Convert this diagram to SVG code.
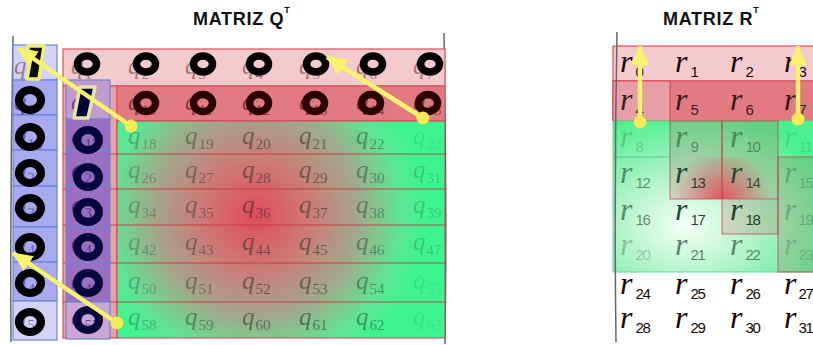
<svg xmlns="http://www.w3.org/2000/svg" width="813" height="345" viewBox="0 0 813 345">
<defs>
<radialGradient id="gq" cx="255" cy="215" r="170" gradientUnits="userSpaceOnUse">
<stop offset="0" stop-color="#e24a5c"/>
<stop offset="0.33" stop-color="#cc7c78"/>
<stop offset="0.6" stop-color="#a2a888"/>
<stop offset="0.85" stop-color="#5ee496"/>
<stop offset="1" stop-color="#3ef48e"/>
</radialGradient>
<radialGradient id="gr" cx="0.36" cy="0.69" r="0.75">
<stop offset="0" stop-color="#f6fff8"/>
<stop offset="0.5" stop-color="#a8f2c2"/>
<stop offset="1" stop-color="#4cf090"/>
</radialGradient>
<radialGradient id="rs" cx="722" cy="199" r="50" gradientUnits="userSpaceOnUse">
<stop offset="0" stop-color="#e0404f" stop-opacity="0.85"/>
<stop offset="1" stop-color="#e0404f" stop-opacity="0"/>
</radialGradient>
<marker id="ah" markerWidth="20" markerHeight="18" refX="19" refY="9" orient="auto" markerUnits="userSpaceOnUse"><path d="M0,0 L20,9 L0,18 Z" fill="#f7f36a"/></marker>
</defs>
<style>
.t{font-family:"Liberation Sans",Arial,sans-serif;font-weight:bold;font-size:18px;fill:#111;letter-spacing:0.7px}
.t tspan{font-size:9px;letter-spacing:0}
.q{font-family:"Liberation Serif","DejaVu Serif",serif;font-style:italic;font-size:25px}
.q tspan{font-style:normal;font-size:15px}
.r{font-family:"Liberation Serif","DejaVu Serif",serif;font-style:italic;font-size:32px}
.r tspan{font-family:"Liberation Sans",sans-serif;font-style:normal;font-size:15px;letter-spacing:-1.2px}
.ring{fill:none;stroke:#000;stroke-width:7.5}
.rd{stroke:#2a0202}
.nv{stroke:#07073e}
.big{stroke-width:8}
.arrow{stroke:#f7f36a;stroke-width:4.5;fill:none;marker-end:url(#ah)}
.dot{fill:#f6ea55}
.br{fill:none;stroke:#666;stroke-width:1.5}
.pk{stroke:#e0505a;stroke-width:1.2}
.bl{stroke:#6a88d8;stroke-width:1.2}
.sep{stroke:#c8303f;stroke-opacity:0.55;stroke-width:1.5}
.h0{fill:#6a1a1a;fill-opacity:.5}
.h1{fill:#4a0000;fill-opacity:.55}
.hc0{fill:#2a2a90;fill-opacity:.6}
.hc1{fill:#300070;fill-opacity:.6}
.g1{fill:#102a14;fill-opacity:.3}
.g2{fill:#102a14;fill-opacity:.42}
.g3{fill:#102a14;fill-opacity:.5}
.g6{fill:#102a14;fill-opacity:.22}
.gf{fill:#102a14;fill-opacity:.1}
.rk{fill:#1a0808}
.rg{fill:#063018}
.ov{fill:#c04048;fill-opacity:.18;stroke:#c83848;stroke-opacity:.6;stroke-width:1.2}
</style>
<rect width="813" height="345" fill="#fff"/>

<g id="title-q"><text class="t" x="193" y="25">MATRIZ Q<tspan dx="0" dy="-12">T</tspan></text></g>
<g id="title-r"><text class="t" x="663" y="25">MATRIZ R<tspan dx="0" dy="-12">T</tspan></text></g>

<g id="matrix-q">
<path class="br" d="M13,36 Q10,190 11,342"/>
<path class="br" d="M444,33 Q447,190 445,344"/>
<rect x="63" y="49" width="382" height="37" fill="#f3cbcf" class="pk"/>
<rect x="63" y="86" width="54" height="252" fill="#e9a1a8" class="pk"/>
<rect x="117" y="86" width="328" height="35" fill="#e27a82" class="pk"/>
<rect x="117" y="121" width="328" height="217" fill="url(#gq)" stroke="#d04050" stroke-width="1"/>
<g class="sep">
<line x1="63" y1="154" x2="445" y2="154"/>
<line x1="63" y1="189" x2="445" y2="189"/>
<line x1="63" y1="225" x2="445" y2="225"/>
<line x1="63" y1="263" x2="445" y2="263"/>
<line x1="63" y1="302" x2="445" y2="302"/>
</g>
<g id="col0" class="bl">
<rect x="13" y="45" width="44" height="35" fill="#d2d3f6"/>
<rect x="13" y="80" width="44" height="35" fill="#a9a9ef"/>
<rect x="13" y="115" width="44" height="35" fill="#a9a9ef"/>
<rect x="13" y="150" width="44" height="36" fill="#a9a9ef"/>
<rect x="13" y="186" width="44" height="41" fill="#a9a9ef"/>
<rect x="13" y="227" width="44" height="35" fill="#a9a9ef"/>
<rect x="13" y="262" width="44" height="39" fill="#a9a9ef"/>
<rect x="13" y="301" width="44" height="39" fill="#d2d3f6"/>
</g>
<g id="col1" class="bl">
<rect x="66" y="80" width="44" height="39" fill="#c29ccc"/>
<rect x="66" y="119" width="44" height="31" fill="#9a6ec0"/>
<rect x="66" y="150" width="44" height="35" fill="#9a6ec0"/>
<rect x="66" y="185" width="44" height="42" fill="#9a6ec0"/>
<rect x="66" y="227" width="44" height="36" fill="#9a6ec0"/>
<rect x="66" y="263" width="44" height="39" fill="#9a6ec0"/>
<rect x="66" y="302" width="44" height="37" fill="#c9a6d4"/>
</g>
<g id="q-texts">
<text class="q h0" x="14" y="74">q<tspan dx="1" dy="5">0</tspan></text>
<text class="q h0" x="71" y="74">q<tspan dx="1" dy="5">1</tspan></text>
<text class="q h0" x="128" y="74">q<tspan dx="1" dy="5">2</tspan></text>
<text class="q h0" x="185" y="74">q<tspan dx="1" dy="5">3</tspan></text>
<text class="q h0" x="242" y="74">q<tspan dx="1" dy="5">4</tspan></text>
<text class="q h0" x="299" y="74">q<tspan dx="1" dy="5">5</tspan></text>
<text class="q h0" x="356" y="74">q<tspan dx="1" dy="5">6</tspan></text>
<text class="q h0" x="413" y="74">q<tspan dx="1" dy="5">7</tspan></text>

<text class="q hc0" x="14" y="110">q<tspan dx="1" dy="5">8</tspan></text>
<text class="q hc1" x="71" y="110">q<tspan dx="1" dy="5">9</tspan></text>
<text class="q h1" x="128" y="110">q<tspan dx="1" dy="5">10</tspan></text>
<text class="q h1" x="185" y="110">q<tspan dx="1" dy="5">11</tspan></text>
<text class="q h1" x="242" y="110">q<tspan dx="1" dy="5">12</tspan></text>
<text class="q h1" x="299" y="110">q<tspan dx="1" dy="5">13</tspan></text>
<text class="q h1" x="356" y="110">q<tspan dx="1" dy="5">14</tspan></text>
<text class="q h1" x="413" y="110">q<tspan dx="1" dy="5">15</tspan></text>

<text class="q hc0" x="14" y="144">q<tspan dx="1" dy="5">16</tspan></text>
<text class="q hc1" x="71" y="144">q<tspan dx="1" dy="5">17</tspan></text>
<text class="q g1" x="128" y="144">q<tspan dx="1" dy="5">18</tspan></text>
<text class="q g2" x="185" y="144">q<tspan dx="1" dy="5">19</tspan></text>
<text class="q g3" x="242" y="144">q<tspan dx="1" dy="5">20</tspan></text>
<text class="q g3" x="299" y="144">q<tspan dx="1" dy="5">21</tspan></text>
<text class="q g2" x="356" y="144">q<tspan dx="1" dy="5">22</tspan></text>
<text class="q gf" x="413" y="144">q<tspan dx="1" dy="5">23</tspan></text>

<text class="q hc0" x="14" y="178">q<tspan dx="1" dy="5">24</tspan></text>
<text class="q hc1" x="71" y="178">q<tspan dx="1" dy="5">25</tspan></text>
<text class="q g1" x="128" y="178">q<tspan dx="1" dy="5">26</tspan></text>
<text class="q g2" x="185" y="178">q<tspan dx="1" dy="5">27</tspan></text>
<text class="q g3" x="242" y="178">q<tspan dx="1" dy="5">28</tspan></text>
<text class="q g3" x="299" y="178">q<tspan dx="1" dy="5">29</tspan></text>
<text class="q g2" x="356" y="178">q<tspan dx="1" dy="5">30</tspan></text>
<text class="q g6" x="413" y="178">q<tspan dx="1" dy="5">31</tspan></text>

<text class="q hc0" x="14" y="213">q<tspan dx="1" dy="5">32</tspan></text>
<text class="q hc1" x="71" y="213">q<tspan dx="1" dy="5">33</tspan></text>
<text class="q g1" x="128" y="213">q<tspan dx="1" dy="5">34</tspan></text>
<text class="q g2" x="185" y="213">q<tspan dx="1" dy="5">35</tspan></text>
<text class="q g3" x="242" y="213">q<tspan dx="1" dy="5">36</tspan></text>
<text class="q g3" x="299" y="213">q<tspan dx="1" dy="5">37</tspan></text>
<text class="q g2" x="356" y="213">q<tspan dx="1" dy="5">38</tspan></text>
<text class="q g6" x="413" y="213">q<tspan dx="1" dy="5">39</tspan></text>

<text class="q hc0" x="14" y="250">q<tspan dx="1" dy="5">40</tspan></text>
<text class="q hc1" x="71" y="250">q<tspan dx="1" dy="5">41</tspan></text>
<text class="q g1" x="128" y="250">q<tspan dx="1" dy="5">42</tspan></text>
<text class="q g2" x="185" y="250">q<tspan dx="1" dy="5">43</tspan></text>
<text class="q g3" x="242" y="250">q<tspan dx="1" dy="5">44</tspan></text>
<text class="q g3" x="299" y="250">q<tspan dx="1" dy="5">45</tspan></text>
<text class="q g2" x="356" y="250">q<tspan dx="1" dy="5">46</tspan></text>
<text class="q g6" x="413" y="250">q<tspan dx="1" dy="5">47</tspan></text>

<text class="q hc0" x="14" y="289">q<tspan dx="1" dy="5">48</tspan></text>
<text class="q hc1" x="71" y="289">q<tspan dx="1" dy="5">49</tspan></text>
<text class="q g1" x="128" y="289">q<tspan dx="1" dy="5">50</tspan></text>
<text class="q g2" x="185" y="289">q<tspan dx="1" dy="5">51</tspan></text>
<text class="q g3" x="242" y="289">q<tspan dx="1" dy="5">52</tspan></text>
<text class="q g3" x="299" y="289">q<tspan dx="1" dy="5">53</tspan></text>
<text class="q g2" x="356" y="289">q<tspan dx="1" dy="5">54</tspan></text>
<text class="q gf" x="413" y="289">q<tspan dx="1" dy="5">55</tspan></text>

<text class="q hc0" x="14" y="325">q<tspan dx="1" dy="5">56</tspan></text>
<text class="q hc1" x="71" y="325">q<tspan dx="1" dy="5">57</tspan></text>
<text class="q g1" x="128" y="325">q<tspan dx="1" dy="5">58</tspan></text>
<text class="q g2" x="185" y="325">q<tspan dx="1" dy="5">59</tspan></text>
<text class="q g3" x="242" y="325">q<tspan dx="1" dy="5">60</tspan></text>
<text class="q g3" x="299" y="325">q<tspan dx="1" dy="5">61</tspan></text>
<text class="q g2" x="356" y="325">q<tspan dx="1" dy="5">62</tspan></text>
<text class="q gf" x="413" y="325">q<tspan dx="1" dy="5">63</tspan></text>
</g>
<g id="rings">
<ellipse class="ring" cx="87" cy="64" rx="9.5" ry="8"/>
<ellipse class="ring" cx="146" cy="64" rx="9.5" ry="8"/>
<ellipse class="ring" cx="203" cy="64" rx="9.5" ry="8"/>
<ellipse class="ring" cx="259" cy="64" rx="9.5" ry="8"/>
<ellipse class="ring" cx="316" cy="64" rx="9.5" ry="8"/>
<ellipse class="ring" cx="373" cy="64" rx="9.5" ry="8"/>
<ellipse class="ring" cx="430" cy="64" rx="9.5" ry="8"/>
<ellipse class="ring rd" cx="146" cy="103" rx="9.5" ry="8.5"/>
<ellipse class="ring rd" cx="203" cy="103" rx="9.5" ry="8.5"/>
<ellipse class="ring rd" cx="259" cy="103" rx="9.5" ry="8.5"/>
<ellipse class="ring rd" cx="315" cy="103" rx="9.5" ry="8.5"/>
<ellipse class="ring rd" cx="371" cy="103" rx="9.5" ry="8.5"/>
<ellipse class="ring rd" cx="428" cy="103" rx="9.5" ry="8.5"/>
<ellipse class="ring big" cx="30" cy="100" rx="11" ry="10"/>
<ellipse class="ring big" cx="30" cy="137" rx="11" ry="10"/>
<ellipse class="ring big" cx="30" cy="173" rx="11" ry="10"/>
<ellipse class="ring big" cx="30" cy="208" rx="11" ry="10"/>
<ellipse class="ring big" cx="30" cy="247" rx="11" ry="10"/>
<ellipse class="ring big" cx="30" cy="283" rx="11" ry="10"/>
<ellipse class="ring big" cx="30" cy="322" rx="11" ry="10"/>
<ellipse class="ring nv big" cx="88" cy="140" rx="11" ry="10"/>
<ellipse class="ring nv big" cx="88" cy="177" rx="11" ry="10"/>
<ellipse class="ring nv big" cx="88" cy="212" rx="11" ry="10"/>
<ellipse class="ring nv big" cx="88" cy="247" rx="11" ry="10"/>
<ellipse class="ring nv big" cx="88" cy="283" rx="11" ry="10"/>
<ellipse class="ring nv big" cx="88" cy="320" rx="11" ry="10"/>
</g>
<polygon points="28,46 44,46 39,79 27,79 31,57 28,57" fill="#0a0a0a" stroke="#f0f070" stroke-width="3.5" stroke-linejoin="round"/>
<polygon points="80,87 95,87 88,118 74,118" fill="#03033a" stroke="#e4e4a8" stroke-width="3.5" stroke-linejoin="round"/>
</g>

<g id="matrix-r">
<rect x="613" y="46" width="205" height="35" fill="#f3cbcf" class="pk"/>
<rect x="613" y="81" width="205" height="40" fill="#e27a82" class="pk"/>
<rect x="613" y="81" width="57" height="40" fill="#e89ea6" class="pk"/>
<rect x="613" y="121" width="205" height="151" fill="url(#gr)" stroke="#60d890" stroke-width="1"/>
<line x1="613" y1="157" x2="670" y2="157" stroke="#40a060" stroke-opacity=".5" stroke-width="1.2"/>
<rect class="ov" x="670" y="121" width="52" height="78"/>
<rect class="ov" x="722" y="121" width="56" height="113"/>
<rect class="ov" x="778" y="157" width="40" height="115"/>
<line x1="722" y1="199" x2="778" y2="199" stroke="#c83848" stroke-opacity=".6" stroke-width="1.2"/>
<rect x="670" y="157" width="108" height="42" fill="url(#rs)"/>
<path class="br" d="M617,32 Q614,190 616,342"/>
<g id="r-texts">
<text class="r rk" x="620" y="72">r<tspan dx="3" dy="5">0</tspan></text>
<text class="r rk" x="675" y="72">r<tspan dx="3" dy="5">1</tspan></text>
<text class="r rk" x="730" y="72">r<tspan dx="3" dy="5">2</tspan></text>
<text class="r rk" x="784" y="72">r<tspan dx="2" dy="5">3</tspan></text>
<text class="r rk" x="620" y="110" fill-opacity=".85">r<tspan dx="3" dy="5">4</tspan></text>
<text class="r rk" x="675" y="110" fill-opacity=".85">r<tspan dx="3" dy="5">5</tspan></text>
<text class="r rk" x="730" y="110" fill-opacity=".85">r<tspan dx="3" dy="5">6</tspan></text>
<text class="r rk" x="784" y="110" fill-opacity=".85">r<tspan dx="2" dy="5">7</tspan></text>
<text class="r rg" x="620" y="147" fill-opacity=".2">r<tspan dx="3" dy="5">8</tspan></text>
<text class="r rg" x="675" y="147" fill-opacity=".45">r<tspan dx="3" dy="5">9</tspan></text>
<text class="r rg" x="730" y="147" fill-opacity=".45">r<tspan dx="3" dy="5">10</tspan></text>
<text class="r rg" x="784" y="147" fill-opacity=".15">r<tspan dx="2" dy="5">11</tspan></text>
<text class="r rg" x="620" y="183" fill-opacity=".5">r<tspan dx="3" dy="5">12</tspan></text>
<text class="r rg" x="675" y="183" fill-opacity=".85">r<tspan dx="3" dy="5">13</tspan></text>
<text class="r rg" x="730" y="183" fill-opacity=".75">r<tspan dx="3" dy="5">14</tspan></text>
<text class="r rg" x="784" y="183" fill-opacity=".25">r<tspan dx="2" dy="5">15</tspan></text>
<text class="r rg" x="620" y="220" fill-opacity=".55">r<tspan dx="3" dy="5">16</tspan></text>
<text class="r rg" x="675" y="220" fill-opacity=".9">r<tspan dx="3" dy="5">17</tspan></text>
<text class="r rg" x="730" y="220" fill-opacity=".9">r<tspan dx="3" dy="5">18</tspan></text>
<text class="r rg" x="784" y="220" fill-opacity=".25">r<tspan dx="2" dy="5">19</tspan></text>
<text class="r rg" x="620" y="255" fill-opacity=".25">r<tspan dx="3" dy="5">20</tspan></text>
<text class="r rg" x="675" y="255" fill-opacity=".6">r<tspan dx="3" dy="5">21</tspan></text>
<text class="r rg" x="730" y="255" fill-opacity=".55">r<tspan dx="3" dy="5">22</tspan></text>
<text class="r rg" x="784" y="255" fill-opacity=".2">r<tspan dx="2" dy="5">23</tspan></text>
<text class="r rk" x="620" y="294">r<tspan dx="3" dy="5">24</tspan></text>
<text class="r rk" x="675" y="294">r<tspan dx="3" dy="5">25</tspan></text>
<text class="r rk" x="730" y="294">r<tspan dx="3" dy="5">26</tspan></text>
<text class="r rk" x="784" y="294">r<tspan dx="2" dy="5">27</tspan></text>
<text class="r rk" x="620" y="328">r<tspan dx="3" dy="5">28</tspan></text>
<text class="r rk" x="675" y="328">r<tspan dx="3" dy="5">29</tspan></text>
<text class="r rk" x="730" y="328">r<tspan dx="3" dy="5">30</tspan></text>
<text class="r rk" x="784" y="328">r<tspan dx="2" dy="5">31</tspan></text>
</g>
</g>

<g id="connectors">
<line class="arrow" x1="131" y1="126" x2="18" y2="48"/>
<circle class="dot" cx="131" cy="126" r="6.5"/>
<line class="arrow" x1="423" y1="118" x2="327" y2="57"/>
<circle class="dot" cx="423" cy="118" r="6.5"/>
<line class="arrow" x1="117" y1="323" x2="13" y2="253"/>
<circle class="dot" cx="117" cy="323" r="6.5"/>
<line class="arrow" x1="640" y1="122" x2="640" y2="46"/>
<circle class="dot" cx="640" cy="122" r="6.5"/>
<line class="arrow" x1="798" y1="119" x2="798" y2="46"/>
<circle class="dot" cx="798" cy="119" r="6.5"/>
</g>
</svg>
